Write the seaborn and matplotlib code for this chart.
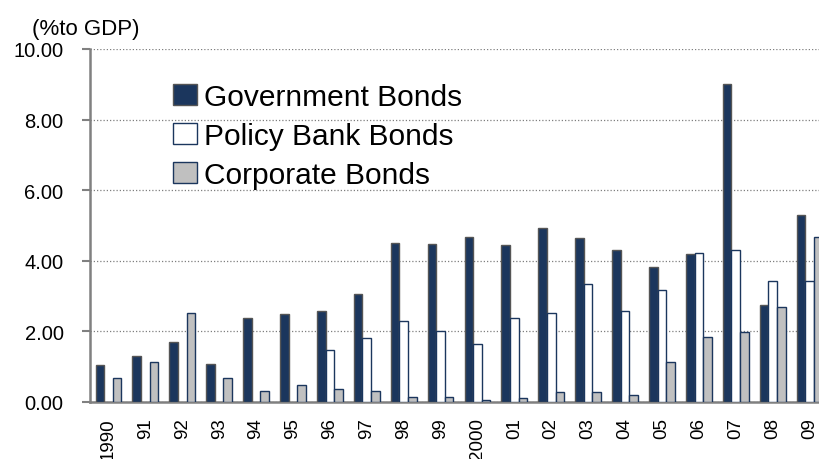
import numpy as np
import pandas as pd
import matplotlib
matplotlib.use("Agg")
import matplotlib.pyplot as plt
from matplotlib.patches import Patch
from matplotlib.ticker import MultipleLocator, FixedLocator
import seaborn as sns

# Bond issuance by type, % of GDP
years = ["1990", "91", "92", "93", "94", "95", "96", "97", "98", "99",
         "2000", "01", "02", "03", "04", "05", "06", "07", "08", "09"]
government = [1.05, 1.29, 1.69, 1.09, 2.38, 2.49, 2.59, 3.06, 4.51, 4.48,
              4.68, 4.45, 4.92, 4.64, 4.32, 3.82, 4.20, 9.00, 2.74, 5.29]
policy_bank = [np.nan, np.nan, np.nan, np.nan, np.nan, np.nan, 1.48, 1.81, 2.29, 2.01,
               1.64, 2.37, 2.53, 3.34, 2.58, 3.18, 4.23, 4.32, 3.42, 3.42]
corporate = [0.68, 1.12, 2.53, 0.68, 0.31, 0.48, 0.36, 0.31, 0.15, 0.15,
             0.07, 0.11, 0.27, 0.27, 0.20, 1.12, 1.85, 1.97, 2.69, 4.67]
series = ["Government Bonds", "Policy Bank Bonds", "Corporate Bonds"]

fills = {"Government Bonds": "#1b365d", "Policy Bank Bonds": "#ffffff", "Corporate Bonds": "#c0c0c0"}
edges = {"Government Bonds": "#555555", "Policy Bank Bonds": "#1b365d", "Corporate Bonds": "#1b365d"}

df = pd.DataFrame({
    "year": years * 3,
    "type": np.repeat(series, len(years)),
    "value": government + policy_bank + corporate,
}).dropna()

sns.set_style("white")
plt.rcParams["font.family"] = ["Liberation Sans", "DejaVu Sans"]
plt.rcParams["text.color"] = "black"
plt.rcParams["xtick.labelcolor"] = "black"
plt.rcParams["ytick.labelcolor"] = "black"

fig = plt.figure(figsize=(8.19, 4.60), dpi=100)
ax = fig.add_axes([90 / 819, 57 / 460, 738 / 819, 353 / 460])

sns.barplot(data=df, x="year", y="value", hue="type", order=years, hue_order=series,
            palette=fills, width=0.7, gap=0, ax=ax, legend=False, errorbar=None,
            saturation=1, zorder=3)

for name, cont in zip(series, ax.containers):
    for bar in cont:
        bar.set_edgecolor(edges[name])
        bar.set_linewidth(1.0)

ax.set_xlim(-0.5, len(years) - 0.5)
ax.set_ylim(0, 10)
ax.yaxis.set_major_locator(MultipleLocator(2))
ax.set_yticklabels([f"{v:.2f}" for v in ax.get_yticks()])
ax.yaxis.grid(True, linestyle=(0, (1, 1.6)), color="#7f7f7f", linewidth=0.9, zorder=0)
ax.xaxis.grid(False)

ax.set_xlabel("")
ax.set_ylabel("")
ax.xaxis.set_minor_locator(FixedLocator(np.arange(-0.5, len(years), 1.0)))
ax.tick_params(axis="x", which="major", length=0, pad=11, labelsize=13.5, rotation=90,
               labelcolor="black")
ax.tick_params(axis="x", which="minor", length=5, width=1.5, color="#808080", direction="out")
ax.tick_params(axis="y", which="major", length=6, width=1.5, color="#808080",
               direction="out", labelsize=14.5, pad=13, left=True, labelcolor="black")

for side in ["top", "right"]:
    ax.spines[side].set_visible(False)
for side in ["left", "bottom"]:
    ax.spines[side].set_color("#808080")
    ax.spines[side].set_linewidth(1.8)

handles = [Patch(facecolor=fills[s], edgecolor=edges[s], linewidth=1.0) for s in series]
ax.legend(handles, series, loc="upper left", bbox_to_anchor=(0.112, 0.905),
          frameon=False, fontsize=21.5, handlelength=0.8, handleheight=0.7,
          handletextpad=0.25, labelspacing=0.38, borderpad=0, borderaxespad=0,
          labelcolor="black")

fig.text(32 / 819, 1 - 30 / 460, "(%to GDP)", fontsize=16, ha="left", va="center",
         color="black")

fig.savefig("out.png", dpi=100)
